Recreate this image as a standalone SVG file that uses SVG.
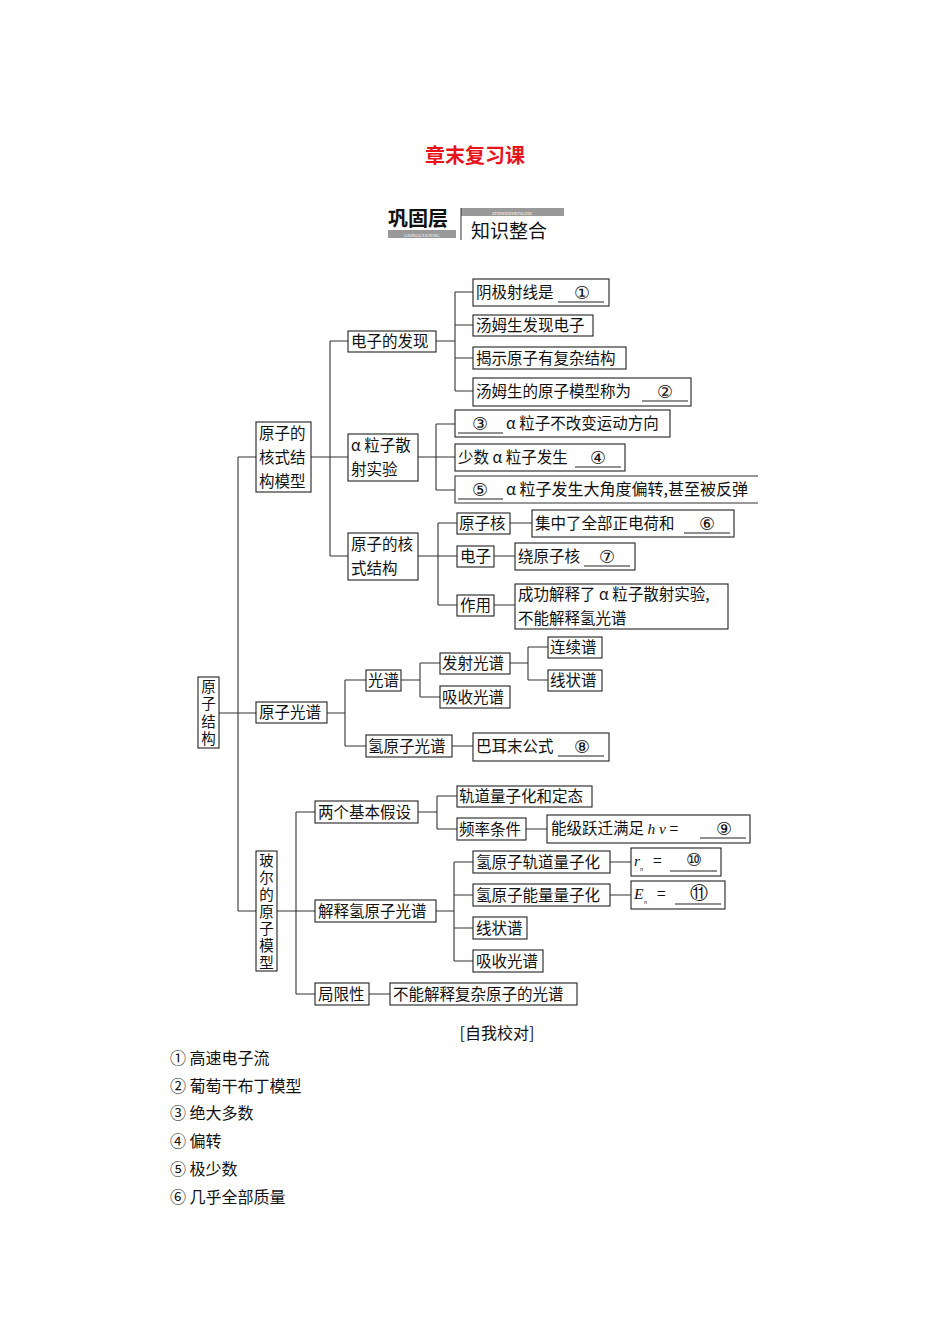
<svg xmlns="http://www.w3.org/2000/svg" width="950" height="1344" viewBox="0 0 950 1344">
<style>
text{font-family:"Noto Sans CJK SC","Liberation Serif",serif;font-size:15.5px;fill:#111}
.b{fill:#fff;stroke:#222;stroke-width:1.1}
.c{fill:none;stroke:#333;stroke-width:1.1}
.u{stroke:#222;stroke-width:1}
.it{font-family:"Liberation Serif",serif;font-style:italic}
.n{font-size:18px;font-family:"DejaVu Sans",sans-serif}
.v{font-size:14.5px;writing-mode:tb;glyph-orientation-vertical:0}
.a{font-size:16px}
</style>
<rect width="950" height="1344" fill="#fff"/>
<text x="475" y="163" text-anchor="middle" style="fill:#e8141b;font-size:20px;font-weight:bold">章末复习课</text>
<g id="header">
<text x="388" y="226" style="font-size:20px;font-weight:bold">巩固层</text>
<rect x="388" y="230" width="68" height="8" fill="#999"/>
<text x="422" y="237" text-anchor="middle" style="font-size:5px;fill:#fff;font-family:'Liberation Serif',serif">GONGGUCENG</text>
<rect x="461" y="208" width="103" height="8" fill="#999"/>
<text x="512" y="215" text-anchor="middle" style="font-size:5px;fill:#fff;font-family:'Liberation Serif',serif">ZHISHIZHENGHE</text>
<line x1="461" y1="208" x2="461" y2="240" stroke="#333"/>
<text x="471" y="238" style="font-size:19px">知识整合</text>
</g>
<g id="connectors" class="c">
<path d="M219 713H238M238 457V911M238 457H256M238 713H256M238 911H256"/>
<path d="M311 457H330M330 341V556M330 341H348M330 457H348M330 556H348"/>
<path d="M436 341H455M455 292V391M455 292H473M455 325H473M455 358H473M455 391H473"/>
<path d="M418 457H436M436 424V490M436 424H455M436 457H455M436 490H455"/>
<path d="M418 556H438M438 523V605M438 523H457M438 556H457M438 605H457M510 523H532M494 556H515M494 605H515"/>
<path d="M327 713H345M345 680V746M345 680H366M345 746H366M452 746H473"/>
<path d="M401 680H420M420 663V697M420 663H440M420 697H440M510 663H528M528 647V680M528 647H548M528 680H548"/>
<path d="M277 911H296M296 812V994M296 812H315M296 911H315M296 994H315"/>
<path d="M418 812H437M437 796V829M437 796H457M437 829H457M526 829H547"/>
<path d="M436 911H454M454 862V961M454 862H473M454 895H473M454 928H473M454 961H473M610 862H631M610 895H631M369 994H390"/>
</g>
<g id="n-root"><rect class="b" x="198" y="677" width="21" height="71"/><text x="208.5" y="679" class="v" letter-spacing="3">原子结构</text></g>
<g id="n-hs"><rect class="b" x="256" y="422" width="55" height="70"/><text x="259" y="439">原子的</text><text x="259" y="463">核式结</text><text x="259" y="487">构模型</text></g>
<g id="n-dz"><rect class="b" x="348" y="331" width="88" height="21"/><text x="351" y="347">电子的发现</text></g>
<g id="n-a"><rect class="b" x="348" y="434" width="70" height="47"/><text x="351" y="451">α 粒子散</text><text x="351" y="475">射实验</text></g>
<g id="n-hsjg"><rect class="b" x="348" y="533" width="70" height="47"/><text x="351" y="550">原子的核</text><text x="351" y="574">式结构</text></g>
<g id="n1"><rect class="b" x="473" y="279" width="136" height="27"/><text x="476" y="298">阴极射线是</text><line class="u" x1="558" y1="302" x2="604" y2="302"/><text x="582" y="299" text-anchor="middle" class="n">①</text></g>
<g id="n2"><rect class="b" x="473" y="315" width="120" height="21"/><text x="476" y="331">汤姆生发现电子</text></g>
<g id="n3"><rect class="b" x="473" y="347" width="153" height="22"/><text x="476" y="364">揭示原子有复杂结构</text></g>
<g id="n4"><rect class="b" x="473" y="378" width="218" height="28"/><text x="476" y="397">汤姆生的原子模型称为</text><line class="u" x1="642" y1="401" x2="688" y2="401"/><text x="665" y="398" text-anchor="middle" class="n">②</text></g>
<g id="n5"><rect class="b" x="455" y="410" width="215" height="27"/><line class="u" x1="458" y1="433" x2="503" y2="433"/><text x="480" y="430" text-anchor="middle" class="n">③</text><text x="506" y="429">α 粒子不改变运动方向</text></g>
<g id="n6"><rect class="b" x="455" y="444" width="170" height="27"/><text x="458" y="463">少数 α 粒子发生</text><line class="u" x1="575" y1="467" x2="621" y2="467"/><text x="598" y="464" text-anchor="middle" class="n">④</text></g>
<g id="n7"><path class="c" d="M758 476H455V503H758"/><line class="u" x1="458" y1="499" x2="503" y2="499"/><text x="480" y="496" text-anchor="middle" class="n">⑤</text><text x="506" y="495" style="font-size:16px">α 粒子发生大角度偏转,甚至被反弹</text></g>
<g id="n8"><rect class="b" x="457" y="513" width="53" height="21"/><text x="459" y="529">原子核</text></g>
<g id="n9"><rect class="b" x="532" y="510" width="202" height="27"/><text x="535" y="529">集中了全部正电荷和</text><line class="u" x1="684" y1="533" x2="730" y2="533"/><text x="707" y="530" text-anchor="middle" class="n">⑥</text></g>
<g id="n10"><rect class="b" x="457" y="546" width="37" height="21"/><text x="460" y="562">电子</text></g>
<g id="n11"><rect class="b" x="515" y="543" width="120" height="27"/><text x="518" y="562">绕原子核</text><line class="u" x1="584" y1="566" x2="630" y2="566"/><text x="607" y="563" text-anchor="middle" class="n">⑦</text></g>
<g id="n12"><rect class="b" x="457" y="595" width="37" height="21"/><text x="460" y="611">作用</text></g>
<g id="n13"><rect class="b" x="515" y="584" width="213" height="45"/><text x="518" y="600">成功解释了 α 粒子散射实验,</text><text x="518" y="624">不能解释氢光谱</text></g>
<g id="n-gp"><rect class="b" x="256" y="702" width="71" height="21"/><text x="259" y="718">原子光谱</text></g>
<g id="n-g"><rect class="b" x="366" y="670" width="35" height="21"/><text x="368" y="686">光谱</text></g>
<g id="n-h"><rect class="b" x="366" y="735" width="86" height="22"/><text x="368" y="752">氢原子光谱</text></g>
<g id="n-b"><rect class="b" x="473" y="733" width="136" height="28"/><text x="476" y="752">巴耳末公式</text><line class="u" x1="558" y1="756" x2="604" y2="756"/><text x="582" y="753" text-anchor="middle" class="n">⑧</text></g>
<g id="n-fs"><rect class="b" x="440" y="653" width="70" height="21"/><text x="442" y="669">发射光谱</text></g>
<g id="n-xs"><rect class="b" x="440" y="686" width="70" height="22"/><text x="442" y="703">吸收光谱</text></g>
<g id="n-lx"><rect class="b" x="548" y="637" width="54" height="21"/><text x="550" y="653">连续谱</text></g>
<g id="n-xz"><rect class="b" x="548" y="670" width="54" height="21"/><text x="550" y="686">线状谱</text></g>
<g id="n-br"><rect class="b" x="256" y="851" width="21" height="120"/><text x="266.5" y="853" class="v" letter-spacing="2.5">玻尔的原子模型</text></g>
<g id="n-lg"><rect class="b" x="315" y="801" width="103" height="22"/><text x="318" y="818">两个基本假设</text></g>
<g id="n-gd"><rect class="b" x="457" y="786" width="135" height="21"/><text x="459" y="802">轨道量子化和定态</text></g>
<g id="n-pl"><rect class="b" x="457" y="818" width="69" height="22"/><text x="459" y="835">频率条件</text></g>
<g id="n-nj"><rect class="b" x="547" y="815" width="203" height="28"/><text x="551" y="834">能级跃迁满足 <tspan class="it">h ν</tspan> =</text><line class="u" x1="700" y1="838" x2="746" y2="838"/><text x="724" y="835" text-anchor="middle" class="n">⑨</text></g>
<g id="n-js"><rect class="b" x="315" y="900" width="121" height="22"/><text x="318" y="917">解释氢原子光谱</text></g>
<g id="n-gdl"><rect class="b" x="473" y="851" width="137" height="22"/><text x="476" y="868">氢原子轨道量子化</text></g>
<g id="n-r"><rect class="b" x="631" y="848" width="90" height="28"/><text x="634" y="866" class="it">r</text><text x="640" y="871" style="font-size:5px">n</text><text x="653" y="866">=</text><line class="u" x1="670" y1="871" x2="717" y2="871"/><text x="694" y="866" text-anchor="middle" class="n">⑩</text></g>
<g id="n-nl"><rect class="b" x="473" y="884" width="137" height="22"/><text x="476" y="901">氢原子能量量子化</text></g>
<g id="n-e"><rect class="b" x="631" y="881" width="94" height="28"/><text x="634" y="899" class="it">E</text><text x="644" y="904" style="font-size:5px">n</text><text x="657" y="899">=</text><line class="u" x1="675" y1="904" x2="721" y2="904"/><text x="699" y="899" text-anchor="middle" class="n">⑪</text></g>
<g id="n-xzp"><rect class="b" x="473" y="917" width="54" height="22"/><text x="476" y="934">线状谱</text></g>
<g id="n-xsp"><rect class="b" x="473" y="950" width="70" height="22"/><text x="476" y="967">吸收光谱</text></g>
<g id="n-jx"><rect class="b" x="315" y="983" width="54" height="22"/><text x="318" y="1000">局限性</text></g>
<g id="n-bn"><rect class="b" x="390" y="983" width="187" height="22"/><text x="393" y="1000">不能解释复杂原子的光谱</text></g>
<text x="497" y="1039" text-anchor="middle" class="a">[自我校对]</text>
<g id="answers">
<text x="170" y="1064" class="a">① 高速电子流</text>
<text x="170" y="1092" class="a">② 葡萄干布丁模型</text>
<text x="170" y="1119" class="a">③ 绝大多数</text>
<text x="170" y="1147" class="a">④ 偏转</text>
<text x="170" y="1175" class="a">⑤ 极少数</text>
<text x="170" y="1203" class="a">⑥ 几乎全部质量</text>
</g>
</svg>
